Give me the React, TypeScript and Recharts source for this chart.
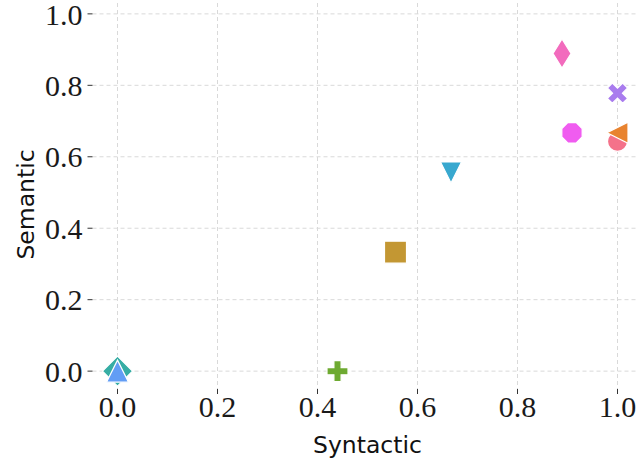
import React from 'react';
import { ScatterChart, Scatter, XAxis, YAxis, CartesianGrid, Label } from 'recharts';

// one point per method, in plotting order
const syntactic = [1.0, 1.0, 0.556, 0.44, 0.0, 0.0, 0.667, 0.0, 1.0, 0.909, 0.889];
const semantic = [0.643, 0.667, 0.333, 0.0, 0.0, 0.0, 0.556, 0.0, 0.778, 0.667, 0.889];
const markerKinds = ['circle', 'triLeft', 'square', 'plus', 'hexagon', 'diamond', 'triDown', 'triUp', 'cross', 'octagon', 'thinDiamond'];
const markerColors = ['#f4728a', '#e8832f', '#c39733', '#6eaa31', '#33b07a', '#36ada4', '#38a8cf', '#629df5', '#a97cee', '#f05cf0', '#f26bbd'];
const tickValues = [0, 0.2, 0.4, 0.6, 0.8, 1.0];
const axisDomain = [-0.05, 1.05];

const points = syntactic.map((x, i) => ({ x, y: semantic[i] }));

const polygon = (pts: number[][]) => pts.map((p, i) => `${i ? 'L' : 'M'}${p[0]},${p[1]}`).join(' ') + ' Z';

const regular = (n: number, r: number, rot: number) =>
  Array.from({ length: n }, (_, k) => {
    const a = rot + (k * 2 * Math.PI) / n;
    return [r * Math.cos(a), r * Math.sin(a)];
  });

const plusPts = (L: number, t: number) => [
  [t, L], [t, t], [L, t], [L, -t], [t, -t], [t, -L],
  [-t, -L], [-t, -t], [-L, -t], [-L, t], [-t, t], [-t, L],
];

const markerPath = (kind: string) => {
  switch (kind) {
    case 'square':
      return polygon([[-11, -11], [11, -11], [11, 11], [-11, 11]]);
    case 'diamond':
      return polygon([[0, -15], [15, 0], [0, 15], [-15, 0]]);
    case 'thinDiamond':
      return polygon([[0, -14.5], [9, 0], [0, 14.5], [-9, 0]]);
    case 'triUp':
      return polygon([[0, -11], [11, 11], [-11, 11]]);
    case 'triDown':
      return polygon([[0, 10.5], [10.5, -10.5], [-10.5, -10.5]]);
    case 'triLeft':
      return polygon([[-10.5, 0], [10.5, -10.5], [10.5, 10.5]]);
    case 'octagon':
      return polygon(regular(8, 11, Math.PI / 8));
    case 'hexagon':
      return polygon(regular(6, 11.5, -Math.PI / 2));
    case 'plus':
      return polygon(plusPts(10.5, 3.6));
    case 'cross': {
      const c = Math.SQRT1_2;
      return polygon(plusPts(10.8, 3.5).map(([px, py]) => [c * (px - py), c * (px + py)]));
    }
    default:
      return '';
  }
};

const makeShape = (kind: string, color: string) => (props: any) => {
  const { cx, cy } = props;
  if (cx == null || cy == null) return <g />;
  if (kind === 'circle') {
    return <circle cx={cx} cy={cy} r={10} fill={color} stroke="#fff" strokeWidth={1.2} />;
  }
  return (
    <path
      d={markerPath(kind)}
      transform={`translate(${cx},${cy})`}
      fill={color}
      stroke="#fff"
      strokeWidth={1.2}
    />
  );
};

const tickStyle = { fontFamily: '"Liberation Serif", serif', fontSize: 30, fill: '#1a1a1a' };
const labelFont = '"DejaVu Sans", sans-serif';

const YLabel = (props: any) => {
  const { viewBox } = props;
  const x = viewBox.x + 34;
  const y = viewBox.y + viewBox.height / 2 + 12;
  return (
    <text
      x={x}
      y={y}
      transform={`rotate(-90, ${x}, ${y})`}
      textAnchor="middle"
      fontFamily={labelFont}
      fontSize={23.5}
      fill="#111"
    >
      Semantic
    </text>
  );
};

// grid only at the tick values (not at the domain edges)
const span = axisDomain[1] - axisDomain[0];
const vGrid = ({ offset }: any) =>
  tickValues.map((v) => offset.left + ((v - axisDomain[0]) / span) * offset.width);
const hGrid = ({ offset }: any) =>
  tickValues.map((v) => offset.top + ((axisDomain[1] - v) / span) * offset.height);

export default function App() {
  return (
    <div style={{ position: 'fixed', left: 0, top: 0, width: 637, height: 461, overflow: 'hidden', background: '#fff' }}>
      <div style={{ position: 'absolute', left: 0, top: -20, width: 660, height: 500 }}>
        <ScatterChart width={660} height={500} margin={{ top: 16, right: 17.5, left: 0, bottom: 27 }}>
          <CartesianGrid
            stroke="#d9d9d9"
            strokeDasharray="4 3"
            strokeWidth={1}
            verticalCoordinatesGenerator={vGrid}
            horizontalCoordinatesGenerator={hGrid}
          />
          <XAxis
            type="number"
            dataKey="x"
            domain={axisDomain}
            ticks={tickValues}
            tickFormatter={(v: number) => v.toFixed(1)}
            axisLine={false}
            tickLine={{ stroke: '#333' }}
            tickSize={5}
            tickMargin={2}
            tick={tickStyle}
            height={64}
            allowDataOverflow
          >
            <Label value="Syntactic" position="insideBottom" offset={0} style={{ fontFamily: labelFont, fontSize: 23.5, fill: '#111' }} />
          </XAxis>
          <YAxis
            type="number"
            dataKey="y"
            domain={axisDomain}
            ticks={tickValues}
            tickFormatter={(v: number) => v.toFixed(1)}
            axisLine={false}
            tickLine={{ stroke: '#333' }}
            tickSize={5}
            tickMargin={5}
            tick={tickStyle}
            width={92.5}
            allowDataOverflow
          >
            <Label content={<YLabel />} />
          </YAxis>
          {points.map((p, i) => (
            <Scatter
              key={i}
              data={[p]}
              shape={makeShape(markerKinds[i], markerColors[i])}
              isAnimationActive={false}
            />
          ))}
        </ScatterChart>
      </div>
    </div>
  );
}
